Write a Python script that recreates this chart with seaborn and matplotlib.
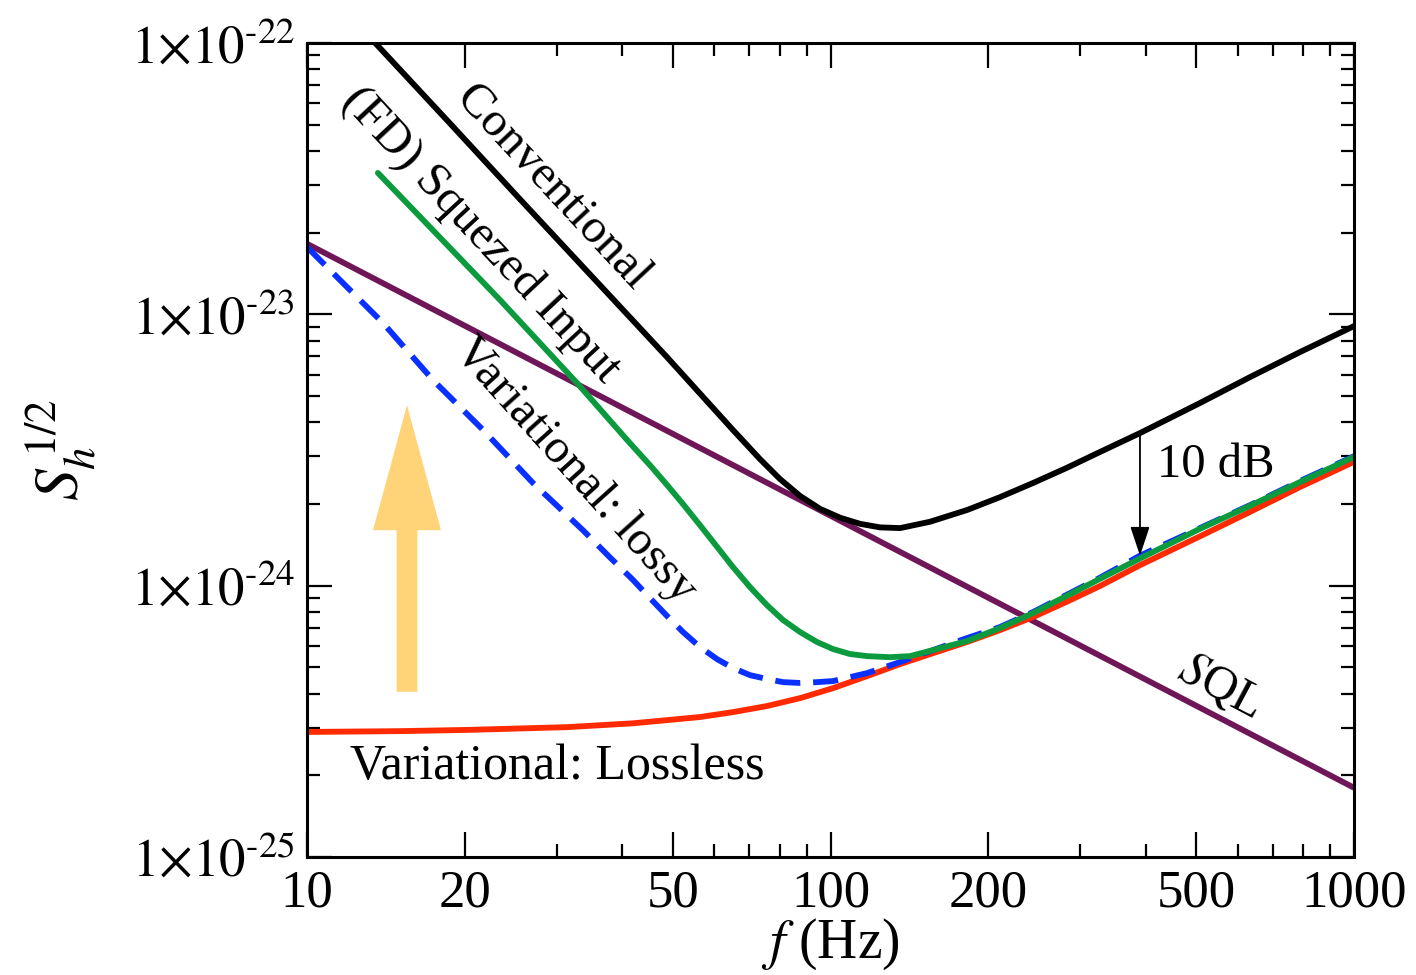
import numpy as np
import pandas as pd
import matplotlib
matplotlib.use("Agg")
import matplotlib.pyplot as plt
import seaborn as sns
from matplotlib.ticker import FixedLocator, FuncFormatter, NullFormatter, LogLocator
from matplotlib.patches import FancyArrowPatch

# 读图得到的数据 (f in Hz, S_h^{1/2})
conv_f = [13.5, 18.8, 25.5, 36.3, 48.7, 65.1, 73.3, 80.1, 87.5, 95.5, 104.3, 113.9, 124.3, 135.8,
          154.9, 182.3, 210.8, 243.7, 281.8, 327.2, 390.1, 507.8, 632.9, 788.6, 1000]
conv_s = [1.00e-22, 5.03e-23, 2.66e-23, 1.28e-23, 6.96e-24, 3.75e-24, 2.93e-24, 2.47e-24, 2.14e-24,
          1.92e-24, 1.78e-24, 1.69e-24, 1.64e-24, 1.63e-24, 1.72e-24, 1.90e-24, 2.12e-24, 2.39e-24,
          2.71e-24, 3.11e-24, 3.65e-24, 4.71e-24, 5.87e-24, 7.26e-24, 9.05e-24]

fd_f = [13.66, 17.41, 23.37, 32.80, 41.40, 45.20, 48.73, 52.26, 56.33, 60.72, 65.14, 70.18, 75.60,
        81.17, 87.45, 94.23, 101.1, 108.9, 117.4, 129.9, 141.9, 157.0, 182.3, 210.8, 243.7, 327.2,
        390.1, 507.8, 632.9, 788.6, 1000]
fd_s = [3.32e-23, 2.04e-23, 1.13e-23, 5.58e-24, 3.35e-24, 2.78e-24, 2.35e-24, 2.00e-24, 1.67e-24,
        1.39e-24, 1.17e-24, 9.88e-25, 8.48e-25, 7.47e-25, 6.75e-25, 6.20e-25, 5.84e-25, 5.60e-25,
        5.50e-25, 5.45e-25, 5.50e-25, 5.79e-25, 6.25e-25, 6.98e-25, 7.92e-25, 1.06e-24, 1.26e-24,
        1.62e-24, 1.97e-24, 2.41e-24, 2.98e-24]

lossy_f = [10, 11.21, 13.97, 17.41, 21.69, 27.02, 33.67, 37.92, 41.95, 45.20, 48.73, 52.26, 56.33,
           60.72, 65.14, 70.18, 75.60, 81.17, 87.45, 94.23, 101.1, 117.4, 135.8, 157.0, 182.3, 210.8,
           243.7, 327.2, 390.1, 507.8, 632.9, 788.6, 1000]
lossy_s = [1.77e-23, 1.42e-23, 9.29e-24, 5.72e-24, 3.75e-24, 2.39e-24, 1.60e-24, 1.27e-24, 1.05e-24,
           9.00e-25, 7.73e-25, 6.75e-25, 5.94e-25, 5.36e-25, 4.97e-25, 4.68e-25, 4.53e-25, 4.41e-25,
           4.38e-25, 4.41e-25, 4.45e-25, 4.76e-25, 5.23e-25, 5.79e-25, 6.41e-25, 7.04e-25, 7.99e-25,
           1.07e-24, 1.29e-24, 1.63e-24, 1.98e-24, 2.43e-24, 3.00e-24]

lossless_f = [10, 15.05, 20.21, 31.39, 41.95, 56.33, 65.14, 75.60, 87.45, 101.1, 117.4, 135.8, 157.0,
              182.3, 210.8, 243.7, 281.8, 327.2, 390.1, 507.8, 632.9, 788.6, 1000]
lossless_s = [2.89e-25, 2.91e-25, 2.94e-25, 3.01e-25, 3.11e-25, 3.28e-25, 3.42e-25, 3.60e-25, 3.85e-25,
              4.19e-25, 4.64e-25, 5.14e-25, 5.64e-25, 6.20e-25, 6.86e-25, 7.66e-25, 8.70e-25, 9.97e-25,
              1.19e-24, 1.52e-24, 1.87e-24, 2.31e-24, 2.86e-24]

sql_f = [10, 100, 1000]
sql_s = [1.82e-23, 1.81e-24, 1.80e-25]

x_major = [10, 20, 50, 100, 200, 500, 1000]
x_minor = [30, 40, 60, 70, 80, 90, 300, 400, 600, 700, 800, 900]

sns.set_style("ticks")
plt.rcParams['font.family'] = ['Liberation Serif', 'DejaVu Serif']
plt.rcParams['mathtext.fontset'] = 'stix'
for k in ['text.color', 'axes.labelcolor', 'xtick.color', 'ytick.color', 'axes.edgecolor']:
    plt.rcParams[k] = 'black'

fig = plt.figure(figsize=(14.16, 9.75), dpi=100)
ax = fig.add_axes([307 / 1416, 118 / 975, 1047 / 1416, 814 / 975])

lw = 4.2
curves = [
    (sql_f, sql_s, '#6e1657', '-'),
    (conv_f, conv_s, 'black', '-'),
    (lossless_f, lossless_s, '#ff2a00', '-'),
    (lossy_f, lossy_s, '#0a30ff', '--'),
    (fd_f, fd_s, '#0b9b3e', '-'),
]
for fx, sy, col, ls in curves:
    df = pd.DataFrame({'f': fx, 's': sy})
    sns.lineplot(data=df, x='f', y='s', ax=ax, color=col, linewidth=lw, estimator=None, sort=True)
    if ls == '--':
        ax.lines[-1].set_dashes((4.3, 2.2))

ax.set_xscale('log')
ax.set_yscale('log')
ax.set_xlim(10, 1000)
ax.set_ylim(1e-25, 1e-22)


def ylab(v, pos):
    e = int(round(np.log10(v)))
    return r'$1{\times}10^{\text{-%d}}$' % abs(e)


ax.xaxis.set_major_locator(FixedLocator(x_major))
ax.xaxis.set_minor_locator(FixedLocator(x_minor))
ax.xaxis.set_major_formatter(FuncFormatter(lambda v, p: '%d' % v))
ax.xaxis.set_minor_formatter(NullFormatter())
ax.yaxis.set_major_locator(LogLocator(base=10, numticks=10))
ax.yaxis.set_minor_locator(LogLocator(base=10, subs=np.arange(2, 10), numticks=20))
ax.yaxis.set_major_formatter(FuncFormatter(ylab))
ax.yaxis.set_minor_formatter(NullFormatter())

ax.tick_params(which='both', direction='in', top=True, right=True, width=1.6, labelsize=38, color='black')
ax.tick_params(which='major', length=18, pad=9)
ax.tick_params(which='minor', length=9.5)
for sp in ax.spines.values():
    sp.set_linewidth(2.2)
    sp.set_color('black')

ax.set_xlabel(r'$f$ (Hz)', fontsize=40)
ax.set_ylabel(r'$S_h^{\,\mathit{1/2}}$', fontsize=46)
ax.xaxis.set_label_coords(0.5, -0.073)
ax.yaxis.set_label_coords(-0.2, 0.5)

tsz = 35
ax.text(0.234, 0.822, 'Conventional', transform=ax.transAxes, fontsize=tsz, rotation=-47,
        rotation_mode='anchor', ha='center', va='center')
ax.text(0.166, 0.764, '(FD) Squezed Input', transform=ax.transAxes, fontsize=tsz, rotation=-47,
        rotation_mode='anchor', ha='center', va='center')
ax.text(0.256, 0.475, 'Variational: lossy', transform=ax.transAxes, fontsize=tsz, rotation=-48,
        rotation_mode='anchor', ha='center', va='center')
ax.text(0.872, 0.210, r'$S$QL', transform=ax.transAxes, fontsize=tsz, rotation=-28,
        rotation_mode='anchor', ha='center', va='center')
ax.text(0.041, 0.111, 'Variational: Lossless', transform=ax.transAxes, fontsize=36,
        ha='left', va='center')
ax.text(0.812, 0.482, '10 dB', transform=ax.transAxes, fontsize=tsz, ha='left', va='center')

# 10 dB 箭头
ax.annotate('', xy=(390.1, 1.29e-24), xytext=(390.1, 3.65e-24),
            arrowprops=dict(arrowstyle='-|>,head_length=0.9,head_width=0.3', color='black', lw=1.3,
                            shrinkA=0, shrinkB=0, mutation_scale=20))

# 橙色大箭头
big = FancyArrowPatch((0.0955, 0.203), (0.0955, 0.555), transform=ax.transAxes,
                      arrowstyle='simple,head_length=90,head_width=49,tail_width=15',
                      mutation_scale=1, color='#ffd479', lw=0, shrinkA=0, shrinkB=0)
ax.add_patch(big)

fig.savefig('out.png', dpi=100)
